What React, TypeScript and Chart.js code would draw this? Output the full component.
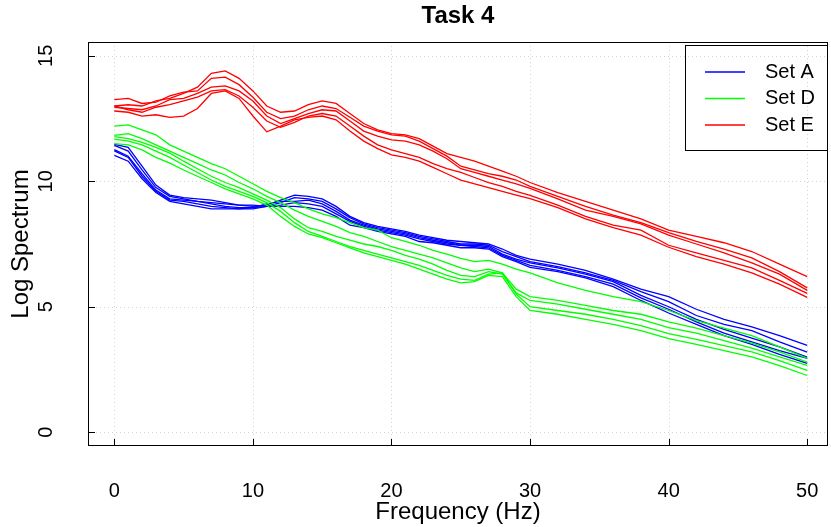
import React, { useEffect, useRef } from "react";
import { Chart, registerables } from "chart.js";

Chart.register(...registerables);

const FONT = "'Liberation Sans', Arial, Helvetica, sans-serif";

const TITLE = "Task 4";
const X_TITLE = "Frequency (Hz)";
const Y_TITLE = "Log Spectrum";
const X_TICKS = [0, 10, 20, 30, 40, 50];
const Y_TICKS = [0, 5, 10, 15];

const FREQ = [
  0, 1, 2, 3, 4, 5, 6, 7, 8, 9, 10, 11, 12, 13, 14, 15, 16, 17, 18, 19, 20,
  21, 22, 23, 24, 25, 26, 27, 28, 29, 30, 32, 34, 36, 38, 40, 42, 44, 46, 48, 50,
];

// Set A (blue)
const A1 = [11.47, 11.35, 10.6, 9.85, 9.45, 9.35, 9.3, 9.25, 9.15, 9.05, 9.0, 9.05, 9.25, 9.45, 9.4, 9.3, 9.0, 8.6, 8.35, 8.2, 8.1, 8.0, 7.85, 7.75, 7.65, 7.6, 7.55, 7.5, 7.3, 7.05, 6.9, 6.7, 6.45, 6.1, 5.7, 5.4, 4.9, 4.5, 4.2, 3.85, 3.46];
const A2 = [11.43, 11.2, 10.45, 9.75, 9.4, 9.3, 9.2, 9.15, 9.1, 9.05, 9.05, 9.0, 9.15, 9.35, 9.3, 9.2, 8.9, 8.55, 8.3, 8.15, 8.05, 7.95, 7.8, 7.7, 7.6, 7.5, 7.5, 7.45, 7.2, 7.0, 6.8, 6.6, 6.35, 6.05, 5.6, 5.2, 4.65, 4.3, 4.05, 3.6, 3.19];
const A3 = [11.26, 11.0, 10.3, 9.65, 9.3, 9.25, 9.2, 9.1, 9.0, 8.95, 8.95, 9.1, 9.2, 9.2, 9.25, 9.1, 8.8, 8.45, 8.25, 8.1, 8.0, 7.9, 7.75, 7.65, 7.55, 7.45, 7.45, 7.4, 7.1, 6.9, 6.75, 6.55, 6.3, 6.0, 5.45, 5.0, 4.5, 4.1, 3.75, 3.4, 2.99];
const A4 = [11.21, 10.95, 10.2, 9.6, 9.25, 9.2, 9.1, 9.0, 8.95, 8.9, 8.9, 9.0, 9.05, 9.15, 9.1, 9.0, 8.7, 8.4, 8.2, 8.05, 7.95, 7.85, 7.7, 7.6, 7.5, 7.45, 7.4, 7.35, 7.05, 6.85, 6.65, 6.45, 6.2, 5.9, 5.35, 4.9, 4.4, 3.95, 3.6, 3.25, 2.94];
const A5 = [11.03, 10.8, 10.1, 9.55, 9.2, 9.1, 9.0, 8.9, 8.9, 8.9, 8.95, 9.0, 9.0, 9.0, 8.95, 8.85, 8.6, 8.25, 8.15, 8.0, 7.9, 7.8, 7.6, 7.55, 7.45, 7.35, 7.35, 7.3, 7.0, 6.8, 6.57, 6.4, 6.15, 5.8, 5.25, 4.75, 4.3, 3.85, 3.5, 3.1, 2.74];

// Set D (green)
const D1 = [12.2, 12.25, 12.05, 11.85, 11.45, 11.2, 10.95, 10.7, 10.5, 10.2, 9.9, 9.6, 9.35, 9.15, 8.9, 8.7, 8.55, 8.35, 8.15, 8.05, 7.75, 7.6, 7.45, 7.25, 7.1, 6.93, 6.8, 6.85, 6.7, 6.5, 6.35, 5.95, 5.65, 5.4, 5.2, 4.85, 4.45, 4.15, 3.85, 3.4, 2.94];
const D2 = [11.83, 11.9, 11.7, 11.45, 11.2, 10.95, 10.7, 10.45, 10.25, 9.95, 9.7, 9.4, 9.15, 8.85, 8.6, 8.4, 8.2, 7.95, 7.8, 7.6, 7.4, 7.25, 7.1, 6.95, 6.75, 6.55, 6.4, 6.5, 6.35, 5.7, 5.4, 5.25, 5.05, 4.85, 4.7, 4.4, 4.15, 3.85, 3.55, 3.2, 2.79];
const D3 = [11.78, 11.7, 11.55, 11.35, 11.12, 10.8, 10.5, 10.2, 9.95, 9.75, 9.5, 9.25, 8.95, 8.5, 8.15, 8.0, 7.8, 7.65, 7.5, 7.4, 7.25, 7.05, 6.9, 6.7, 6.45, 6.25, 6.2, 6.4, 6.3, 5.55, 5.25, 5.1, 4.9, 4.7, 4.5, 4.17, 3.95, 3.65, 3.35, 3.0, 2.66];
const D4 = [11.68, 11.6, 11.45, 11.2, 10.95, 10.65, 10.35, 10.05, 9.8, 9.6, 9.4, 9.15, 8.8, 8.35, 8.0, 7.8, 7.6, 7.4, 7.25, 7.1, 6.95, 6.8, 6.65, 6.45, 6.25, 6.1, 6.05, 6.3, 6.35, 5.5, 5.0, 4.85, 4.7, 4.5, 4.25, 3.93, 3.7, 3.45, 3.2, 2.85, 2.46];
const D5 = [11.5, 11.45, 11.25, 10.95, 10.72, 10.45, 10.2, 9.95, 9.7, 9.5, 9.3, 9.05, 8.6, 8.2, 7.9, 7.75, 7.55, 7.35, 7.15, 7.0, 6.85, 6.7, 6.5, 6.3, 6.1, 5.95, 6.0, 6.25, 6.2, 5.4, 4.85, 4.7, 4.5, 4.3, 4.05, 3.73, 3.5, 3.25, 3.0, 2.65, 2.26];

// Set E (red)
const E1 = [13.0, 13.05, 13.0, 13.2, 13.3, 13.5, 13.75, 14.3, 14.4, 14.1, 13.6, 13.0, 12.75, 12.8, 13.05, 13.2, 13.1, 12.7, 12.3, 12.05, 11.9, 11.85, 11.7, 11.4, 11.1, 10.95, 10.8, 10.6, 10.4, 10.2, 9.95, 9.55, 9.2, 8.85, 8.5, 8.05, 7.8, 7.55, 7.2, 6.7, 6.2];
const E2 = [13.25, 13.3, 13.1, 13.15, 13.4, 13.55, 13.6, 14.1, 14.15, 13.85, 13.35, 12.75, 12.5, 12.6, 12.85, 13.0, 12.9, 12.55, 12.2, 12.0, 11.85, 11.8, 11.6, 11.3, 11.0, 10.6, 10.45, 10.3, 10.2, 10.05, 9.8, 9.4, 9.0, 8.65, 8.35, 7.95, 7.6, 7.3, 6.95, 6.4, 5.75];
const E3 = [12.95, 12.9, 12.85, 13.0, 13.25, 13.3, 13.5, 13.75, 13.8, 13.6, 13.2, 12.6, 12.3, 12.5, 12.7, 12.85, 12.8, 12.4, 12.0, 11.8, 11.65, 11.6, 11.45, 11.2, 10.9, 10.5, 10.35, 10.2, 10.05, 9.9, 9.72, 9.3, 8.85, 8.6, 8.3, 7.85, 7.5, 7.15, 6.75, 6.3, 5.65];
const E4 = [13.0, 12.85, 12.75, 12.95, 13.05, 13.2, 13.35, 13.6, 13.65, 13.4, 12.95, 12.4, 12.15, 12.35, 12.6, 12.7, 12.6, 12.2, 11.8, 11.45, 11.25, 11.1, 10.95, 10.7, 10.5, 10.35, 10.15, 9.95, 9.8, 9.6, 9.44, 9.05, 8.6, 8.25, 8.05, 7.45, 7.15, 6.85, 6.55, 6.05, 5.53];
const E5 = [12.8, 12.75, 12.6, 12.65, 12.55, 12.6, 12.9, 13.5, 13.6, 13.3, 12.6, 11.97, 12.2, 12.45, 12.55, 12.6, 12.45, 12.0, 11.6, 11.3, 11.05, 10.95, 10.8, 10.55, 10.3, 10.05, 9.9, 9.75, 9.6, 9.45, 9.31, 8.95, 8.5, 8.15, 7.85, 7.37, 7.0, 6.7, 6.35, 5.9, 5.37];

const SETS = [
  { label: "Set A", color: "#0000FF", order: 2, lines: [A1, A2, A3, A4, A5] },
  { label: "Set D", color: "#00FF00", order: 1, lines: [D1, D2, D3, D4, D5] },
  { label: "Set E", color: "#FF0000", order: 0, lines: [E1, E2, E3, E4, E5] },
];

const framePlugin = {
  id: "frame",
  beforeDatasetsDraw(chart: any) {
    const { ctx, chartArea } = chart;
    const { left, right, top, bottom } = chartArea;
    const xs = chart.scales.x;
    const ys = chart.scales.y;
    ctx.save();
    ctx.strokeStyle = "#d3d3d3";
    ctx.lineWidth = 1;
    ctx.setLineDash([1, 3]);
    for (const v of X_TICKS) {
      const px = Math.round(xs.getPixelForValue(v)) + 0.5;
      ctx.beginPath();
      ctx.moveTo(px, top);
      ctx.lineTo(px, bottom);
      ctx.stroke();
    }
    for (const v of Y_TICKS) {
      const py = Math.round(ys.getPixelForValue(v)) + 0.5;
      ctx.beginPath();
      ctx.moveTo(left, py);
      ctx.lineTo(right, py);
      ctx.stroke();
    }
    ctx.setLineDash([]);
    ctx.strokeStyle = "#000";
    for (const v of X_TICKS) {
      const px = Math.round(xs.getPixelForValue(v)) + 0.5;
      ctx.beginPath();
      ctx.moveTo(px, bottom);
      ctx.lineTo(px, bottom - 7);
      ctx.stroke();
    }
    for (const v of Y_TICKS) {
      const py = Math.round(ys.getPixelForValue(v)) + 0.5;
      ctx.beginPath();
      ctx.moveTo(left, py);
      ctx.lineTo(left + 7, py);
      ctx.stroke();
    }
    ctx.strokeRect(left + 0.5, top + 0.5, right - left - 1, bottom - top - 1);
    ctx.restore();
  },
  afterDatasetsDraw(chart: any) {
    const { ctx, chartArea } = chart;
    const right = chartArea.right;
    const boxW = 143;
    const boxL = right - boxW;
    const boxT = chartArea.top + 3;
    const boxH = 105;
    ctx.save();
    ctx.strokeStyle = "#000";
    ctx.lineWidth = 1;
    ctx.strokeRect(boxL + 0.5, boxT + 0.5, boxW - 1, boxH);
    ctx.font = `20px ${FONT}`;
    ctx.fillStyle = "#000";
    ctx.textBaseline = "middle";
    ctx.textAlign = "left";
    SETS.forEach((s, i) => {
      const y = boxT + 27 + i * 26.5;
      ctx.strokeStyle = s.color;
      ctx.lineWidth = 1.3;
      ctx.beginPath();
      ctx.moveTo(boxL + 20, y);
      ctx.lineTo(boxL + 60, y);
      ctx.stroke();
      ctx.fillText(s.label, boxL + 80, y);
    });
    ctx.restore();
  },
};

export default function App() {
  const ref = useRef<HTMLCanvasElement>(null);
  useEffect(() => {
    if (!ref.current) return;
    const datasets: any[] = [];
    SETS.forEach((s) => {
      s.lines.forEach((vals) => {
        datasets.push({
          label: s.label,
          data: FREQ.map((f, i) => ({ x: f, y: vals[i] })),
          borderColor: s.color,
          backgroundColor: s.color,
          borderWidth: 1.3,
          pointRadius: 0,
          tension: 0,
          fill: false,
          order: s.order,
        });
      });
    });
    const chart = new Chart(ref.current, {
      type: "line",
      data: { datasets },
      options: {
        responsive: false,
        animation: false,
        layout: { padding: { left: 0, right: 3, top: 0, bottom: 0 } },
        plugins: {
          legend: { display: false },
          tooltip: { enabled: false },
          title: {
            display: true,
            text: TITLE,
            color: "#000",
            fullSize: false,
            font: { family: FONT, size: 24, weight: "bold", lineHeight: 1 },
            padding: { top: 4, bottom: 14 },
          },
        },
        scales: {
          x: {
            type: "linear",
            min: -1.9,
            max: 51.5,
            afterBuildTicks: (scale: any) => {
              scale.ticks = X_TICKS.map((v) => ({ value: v }));
            },
            afterFit: (scale: any) => {
              scale.height = 81;
              scale.paddingLeft = 0;
              scale.paddingRight = 0;
            },
            grid: { display: false, drawTicks: false },
            border: { display: false },
            ticks: {
              color: "#000",
              font: { family: FONT, size: 20, lineHeight: 1.2 },
              padding: 33,
              maxRotation: 0,
              minRotation: 0,
              autoSkip: false,
            },
            title: {
              display: true,
              text: X_TITLE,
              color: "#000",
              font: { family: FONT, size: 24, lineHeight: 1 },
              padding: { top: 0, bottom: 3 },
            },
          },
          y: {
            type: "linear",
            min: -0.55,
            max: 15.55,
            afterBuildTicks: (scale: any) => {
              scale.ticks = Y_TICKS.map((v) => ({ value: v }));
            },
            afterFit: (scale: any) => {
              scale.width = 88;
              scale.paddingTop = 0;
              scale.paddingBottom = 0;
            },
            grid: { display: false, drawTicks: false },
            border: { display: false },
            ticks: {
              color: "#000",
              font: { family: FONT, size: 20, lineHeight: 1.2 },
              padding: 30,
              minRotation: 90,
              maxRotation: 90,
              crossAlign: "center",
              autoSkip: false,
            },
            title: {
              display: true,
              text: Y_TITLE,
              color: "#000",
              font: { family: FONT, size: 24, lineHeight: 1 },
              padding: { top: 9, bottom: 0 },
            },
          },
        },
      } as any,
      plugins: [framePlugin],
    });
    return () => chart.destroy();
  }, []);
  return (
    <div style={{ position: "fixed", left: 0, top: 0, width: 831, height: 527, background: "#fff" }}>
      <canvas ref={ref} width={831} height={527} style={{ display: "block" }} />
    </div>
  );
}
